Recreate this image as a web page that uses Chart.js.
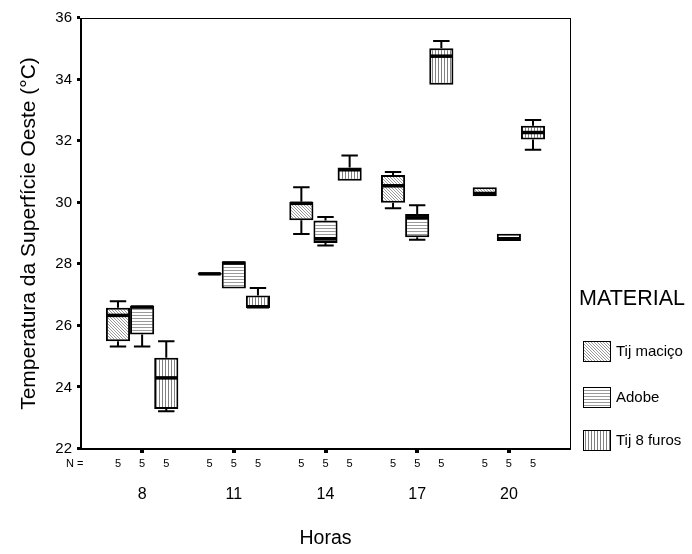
<!DOCTYPE html>
<html lang="pt">
<head>
  <meta charset="UTF-8" />
  <title>Temperatura da Superfície Oeste</title>
  <script src="https://cdn.jsdelivr.net/npm/chart.js"></script>
  <style>
    html, body { margin: 0; padding: 0; background: #fff; }
    canvas { display: block; }
  </style>
</head>
<body>
  <canvas id="boxChart" width="692" height="554"></canvas>

  <script>
    const hours = [8, 11, 14, 17, 20];
    const materials = ["Tij maciço", "Adobe", "Tij 8 furos"];
    const yTicks = [22, 24, 26, 28, 30, 32, 34, 36];

    // sample size per box (same order as hours)
    const nMacico = [5, 5, 5, 5, 5];
    const nAdobe = [5, 5, 5, 5, 5];
    const nFuros = [5, 5, 5, 5, 5];

    // Tij maciço
    const macicoMin = [25.33, 27.66, 28.98, 29.82, 30.21];
    const macicoQ1  = [25.50, 27.66, 29.43, 30.00, 30.21];
    const macicoMed = [26.34, 27.69, 29.98, 30.55, 30.30];
    const macicoQ3  = [26.59, 27.72, 30.03, 30.90, 30.50];
    const macicoMax = [26.80, 27.72, 30.50, 31.00, 30.50];

    // Adobe
    const adobeMin = [25.33, 27.21, 28.61, 28.80, 28.76];
    const adobeQ1  = [25.72, 27.21, 28.69, 28.88, 28.76];
    const adobeMed = [26.61, 28.04, 28.83, 29.51, 28.83];
    const adobeQ3  = [26.66, 28.10, 29.42, 29.63, 28.99];
    const adobeMax = [26.66, 28.10, 29.54, 29.92, 28.99];

    // Tij 8 furos
    const furosMin = [23.23, 26.58, 30.71, 33.83, 31.72];
    const furosQ1  = [23.30, 26.58, 30.71, 33.83, 32.05];
    const furosMed = [24.31, 26.62, 31.07, 34.76, 32.28];
    const furosQ3  = [24.96, 26.99, 31.14, 35.02, 32.50];
    const furosMax = [25.50, 27.23, 31.53, 35.25, 32.69];

    const stats = [
      { min: macicoMin, q1: macicoQ1, med: macicoMed, q3: macicoQ3, max: macicoMax, n: nMacico },
      { min: adobeMin, q1: adobeQ1, med: adobeMed, q3: adobeQ3, max: adobeMax, n: nAdobe },
      { min: furosMin, q1: furosQ1, med: furosMed, q3: furosQ3, max: furosMax, n: nFuros }
    ];

    const FONT = "Arial, 'Liberation Sans', Helvetica, sans-serif";
    const canvas = document.getElementById("boxChart");
    const ctx = canvas.getContext("2d");

    // hatch fills: diagonal, horizontal, vertical
    function makePattern(w, h, color, draw) {
      const c = document.createElement("canvas");
      c.width = w;
      c.height = h;
      const g = c.getContext("2d");
      g.fillStyle = "#fff";
      g.fillRect(0, 0, w, h);
      g.fillStyle = color;
      draw(g);
      return ctx.createPattern(c, "repeat");
    }
    const patterns = [
      makePattern(3, 3, "#9a9a9a", g => { for (let i = 0; i < 3; i++) g.fillRect(i, i, 1, 1); }),
      makePattern(4, 3, "#9a9a9a", g => g.fillRect(0, 0, 4, 1)),
      makePattern(3, 4, "#808080", g => g.fillRect(0, 0, 1, 4))
    ];

    const datasets = materials.map((name, d) => ({
      label: name,
      data: hours.map((h, i) => ({ x: h, y: [stats[d].q1[i], stats[d].q3[i]] })),
      backgroundColor: patterns[d],
      borderColor: "#000",
      borderWidth: 2,
      borderSkipped: false
    }));

    // whiskers, medians, frame, tick squares, N row and legend
    const boxExtras = {
      id: "boxExtras",
      afterDatasetsDraw(chart) {
        const { ctx, scales: { y } } = chart;
        ctx.save();
        ctx.strokeStyle = "#000";
        chart.data.datasets.forEach((ds, d) => {
          const st = stats[d];
          chart.getDatasetMeta(d).data.forEach((bar, i) => {
            const cx = bar.x;
            const w = bar.width;
            const cap = w * 0.34;
            const pMin = y.getPixelForValue(st.min[i]);
            const pQ1 = y.getPixelForValue(st.q1[i]);
            const pMed = y.getPixelForValue(st.med[i]);
            const pQ3 = y.getPixelForValue(st.q3[i]);
            const pMax = y.getPixelForValue(st.max[i]);
            ctx.lineWidth = 2;
            ctx.beginPath();
            if (st.max[i] > st.q3[i]) {
              ctx.moveTo(cx, pQ3); ctx.lineTo(cx, pMax);
              ctx.moveTo(cx - cap, pMax); ctx.lineTo(cx + cap, pMax);
            }
            if (st.min[i] < st.q1[i]) {
              ctx.moveTo(cx, pQ1); ctx.lineTo(cx, pMin);
              ctx.moveTo(cx - cap, pMin); ctx.lineTo(cx + cap, pMin);
            }
            ctx.stroke();
            ctx.lineWidth = 3.5;
            ctx.beginPath();
            ctx.moveTo(cx - w / 2 + 1, pMed);
            ctx.lineTo(cx + w / 2 - 1, pMed);
            ctx.stroke();
          });
        });
        ctx.restore();
      },
      afterDraw(chart) {
        const { ctx, chartArea: a, scales: { x, y } } = chart;
        ctx.save();
        ctx.strokeStyle = "#000";
        ctx.fillStyle = "#000";

        // plot frame
        ctx.lineWidth = 1;
        ctx.strokeRect(a.left + 0.5, a.top + 0.5, a.right - a.left, a.bottom - a.top);
        ctx.lineWidth = 2;
        ctx.beginPath();
        ctx.moveTo(a.left, a.top);
        ctx.lineTo(a.left, a.bottom);
        ctx.lineTo(a.right, a.bottom);
        ctx.stroke();

        // small square tick marks
        yTicks.forEach(v => {
          const py = Math.round(y.getPixelForValue(v));
          ctx.fillRect(a.left - 4, py - 2, 3, 3);
        });
        hours.forEach(h => {
          const px = Math.round(x.getPixelForValue(h));
          ctx.fillRect(px - 2, a.bottom + 1, 4, 3);
        });

        // N row
        ctx.font = "11px " + FONT;
        ctx.textBaseline = "middle";
        ctx.textAlign = "left";
        ctx.fillText("N =", 66, a.bottom + 15);
        ctx.textAlign = "center";
        chart.data.datasets.forEach((ds, d) => {
          chart.getDatasetMeta(d).data.forEach((bar, i) => {
            ctx.fillText(String(stats[d].n[i]), bar.x, a.bottom + 15);
          });
        });

        // legend
        ctx.textAlign = "left";
        ctx.font = "21.5px " + FONT;
        ctx.fillText("MATERIAL", 579, 299);
        ctx.font = "15px " + FONT;
        const rows = [351, 397, 440];
        materials.forEach((name, d) => {
          const top = rows[d] - 10;
          ctx.fillStyle = patterns[d];
          ctx.fillRect(583, top, 27, 20);
          ctx.lineWidth = 1;
          ctx.strokeRect(583.5, top + 0.5, 27, 20);
          ctx.fillStyle = "#000";
          ctx.fillText(name, 616, rows[d] + 1);
        });
        ctx.restore();
      }
    };

    new Chart(ctx, {
      type: "bar",
      data: { datasets },
      options: {
        responsive: false,
        animation: false,
        devicePixelRatio: 1,
        layout: { padding: { top: 16, right: 122, left: 0, bottom: 0 } },
        datasets: { bar: { categoryPercentage: 0.79, barPercentage: 1 } },
        plugins: { legend: { display: false }, tooltip: { enabled: false } },
        scales: {
          x: {
            type: "linear",
            offset: false,
            min: 6,
            max: 22,
            afterBuildTicks: s => { s.ticks = hours.map(v => ({ value: v })); },
            afterFit: s => { s.height = 105; },
            grid: { display: false, drawTicks: false },
            border: { display: false },
            ticks: { color: "#000", font: { family: FONT, size: 16 }, padding: 36, maxRotation: 0 },
            title: {
              display: true,
              text: "Horas",
              color: "#000",
              font: { family: FONT, size: 19.5 },
              padding: { top: 0, bottom: 4 }
            }
          },
          y: {
            min: 22,
            max: 36,
            afterBuildTicks: s => { s.ticks = yTicks.map(v => ({ value: v })); },
            afterFit: s => { s.width = 81; },
            grid: { display: false, drawTicks: false },
            border: { display: false },
            ticks: { color: "#000", font: { family: FONT, size: 15 }, padding: 9 },
            title: {
              display: true,
              text: "Temperatura da Superfície Oeste (°C)",
              color: "#000",
              font: { family: FONT, size: 21 },
              padding: { top: 17, bottom: 0 }
            }
          }
        }
      },
      plugins: [boxExtras]
    });
  </script>
</body>
</html>
